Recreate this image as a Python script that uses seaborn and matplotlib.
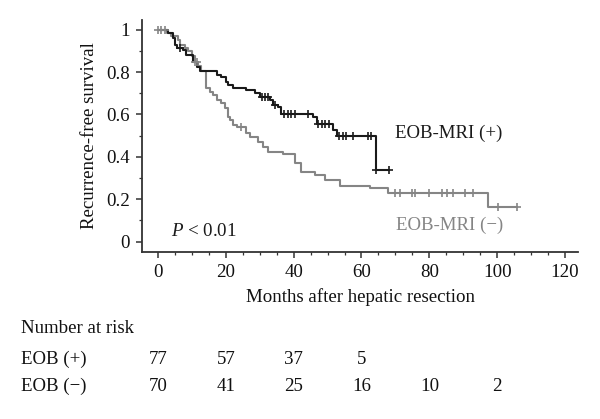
import numpy as np
import pandas as pd
import matplotlib
matplotlib.use("Agg")
import matplotlib.pyplot as plt
import seaborn as sns
from matplotlib.ticker import MultipleLocator, FixedLocator, FixedFormatter
from matplotlib.transforms import blended_transform_factory

# ---- data ----
pos_times = [0, 3.0, 4.5, 5.0, 5.5, 7.4, 8.4, 10.4, 11.4, 12.3, 17.3, 18.7, 20.2, 20.7,
             22.2, 26.1, 28.6, 30.0, 33.0, 34.0, 35.4, 36.4, 45.8, 46.8, 51.7, 52.7,
             64.2, 68.2]
pos_surv = [1.0, 0.983, 0.960, 0.928, 0.913, 0.905, 0.881, 0.849, 0.826, 0.807, 0.786,
            0.776, 0.755, 0.739, 0.727, 0.716, 0.700, 0.684, 0.668, 0.645, 0.634, 0.601,
            0.587, 0.554, 0.527, 0.498, 0.338, 0.338]
pos_censor = [6.5, 30.8, 31.6, 32.4, 34.5, 37.3, 38.3, 39.3, 40.3, 44.3, 47.3, 48.3, 49.3,
              50.3, 53.5, 54.5, 55.5, 57.5, 61.8, 62.8, 64.4, 68.2]

neg_times = [0, 2.8, 4.0, 5.8, 6.5, 8.0, 9.0, 10.0, 10.8, 11.8, 12.8, 14.3, 15.3, 16.3,
             17.3, 18.7, 19.7, 20.7, 21.2, 22.2, 23.2, 26.1, 27.1, 29.5, 31.0, 32.5,
             36.9, 40.4, 42.3, 46.3, 49.2, 53.6, 62.5, 67.9, 97.4, 105.7]
neg_surv = [1.0, 0.986, 0.972, 0.950, 0.930, 0.915, 0.900, 0.875, 0.850, 0.830, 0.807,
            0.724, 0.708, 0.693, 0.668, 0.653, 0.629, 0.590, 0.574, 0.550, 0.542, 0.511,
            0.495, 0.470, 0.448, 0.424, 0.415, 0.369, 0.330, 0.314, 0.290, 0.262, 0.251,
            0.228, 0.162, 0.162]
neg_censor = [0.0, 1.0, 2.0, 11.0, 11.5, 24.5, 69.9, 71.3, 74.8, 75.8, 80.0, 83.6, 85.1,
              86.9, 90.5, 92.8, 100.3, 105.7]

risk_times = [0, 20, 40, 60, 80, 100]
risk_pos = ["77", "57", "37", "5", "", ""]
risk_neg = ["70", "41", "25", "16", "10", "2"]

x_ticks = [0, 20, 40, 60, 80, 100, 120]
y_ticks = [0, 0.2, 0.4, 0.6, 0.8, 1.0]
y_ticklabels = ["0", "0.2", "0.4", "0.6", "0.8", "1"]

# ---- styling ----
sns.set_style("ticks")
plt.rcParams["font.family"] = ["Liberation Serif", "DejaVu Serif"]
plt.rcParams["mathtext.fontset"] = "custom"
plt.rcParams["mathtext.it"] = "Liberation Serif:italic"
plt.rcParams["mathtext.rm"] = "Liberation Serif"

FS = 13.6
BLACK = "#1a1a1a"
GRAY = "#858585"
AXC = "#333333"
TXT = "#111111"

fig = plt.figure(figsize=(6.0, 4.19), dpi=100)
ax = fig.add_axes([142.3 / 600, 1 - 251.7 / 419, (578.3 - 142.3) / 600, (251.7 - 20) / 419])

def step_value(times, surv, t):
    idx = np.searchsorted(np.asarray(times), t, side="right") - 1
    idx = np.clip(idx, 0, len(surv) - 1)
    return np.asarray(surv)[idx]

df_neg = pd.DataFrame({"t": neg_times, "s": neg_surv})
df_pos = pd.DataFrame({"t": pos_times, "s": pos_surv})

sns.lineplot(data=df_neg, x="t", y="s", ax=ax, color=GRAY, lw=1.5,
             drawstyle="steps-post", estimator=None, sort=False)
sns.lineplot(data=df_pos, x="t", y="s", ax=ax, color=BLACK, lw=1.5,
             drawstyle="steps-post", estimator=None, sort=False)

cn = pd.DataFrame({"t": neg_censor, "s": step_value(neg_times, neg_surv, neg_censor)})
cp = pd.DataFrame({"t": pos_censor, "s": step_value(pos_times, pos_surv, pos_censor)})
sns.scatterplot(data=cn, x="t", y="s", ax=ax, marker="+", color=GRAY, s=30, linewidth=1.2, zorder=3)
sns.scatterplot(data=cp, x="t", y="s", ax=ax, marker="+", color=BLACK, s=30, linewidth=1.2, zorder=3)

ax.set_xlim(-4.6, 123.9)
ax.set_ylim(-0.048, 1.046)
ax.xaxis.set_major_locator(FixedLocator(x_ticks))
ax.xaxis.set_minor_locator(MultipleLocator(5))
ax.yaxis.set_major_locator(FixedLocator(y_ticks))
ax.yaxis.set_major_formatter(FixedFormatter(y_ticklabels))
ax.yaxis.set_minor_locator(MultipleLocator(0.1))
sns.despine(ax=ax)
for sp in ["left", "bottom"]:
    ax.spines[sp].set_color(AXC)
    ax.spines[sp].set_linewidth(1.3)
ax.tick_params(which="major", length=4.5, width=1.1, color=AXC, labelsize=FS, pad=4.5,
               labelcolor=TXT)
ax.tick_params(which="minor", length=2.5, width=0.9, color=AXC)

ax.set_xlabel("Months after hepatic resection", fontsize=FS, labelpad=5, color=TXT)
ax.set_ylabel("Recurrence-free survival", fontsize=FS, labelpad=6, color=TXT)

ax.text(69.9, 0.511, "EOB-MRI (+)", fontsize=FS, color=BLACK, va="center", ha="left")
ax.text(70.1, 0.078, "EOB-MRI (\u2212)", fontsize=FS, color=GRAY, va="center", ha="left")
ax.text(4.0, 0.046, r"$P$ < 0.01", fontsize=FS, color=BLACK, va="center", ha="left")

# number at risk table
tr = blended_transform_factory(ax.transData, fig.transFigure)
fig.text(20.7 / 600, 1 - 328 / 419, "Number at risk", fontsize=FS, va="center", ha="left", color=TXT)
fig.text(20.7 / 600, 1 - 359 / 419, "EOB (+)", fontsize=FS, va="center", ha="left", color=TXT)
fig.text(20.7 / 600, 1 - 386.7 / 419, "EOB (\u2212)", fontsize=FS, va="center", ha="left", color=TXT)
for t, a, b in zip(risk_times, risk_pos, risk_neg):
    ax.text(t, 1 - 359 / 419, a, transform=tr, fontsize=FS, va="center", ha="center",
            clip_on=False, color=TXT)
    ax.text(t, 1 - 386.7 / 419, b, transform=tr, fontsize=FS, va="center", ha="center",
            clip_on=False, color=TXT)

fig.savefig("out.png", dpi=100)
